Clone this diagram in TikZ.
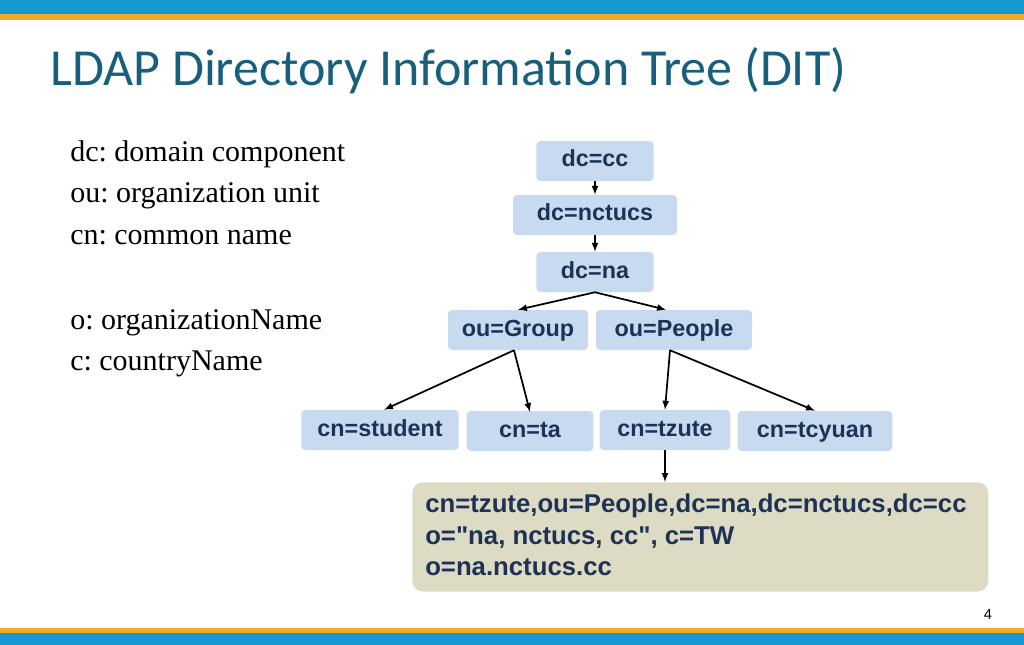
\documentclass[tikz,border=0pt]{standalone}
\usepackage{fontspec}
\setmainfont{Liberation Serif}
\setsansfont{Liberation Sans}
\newfontfamily\titlefont{Carlito}
\definecolor{barblue}{RGB}{22,152,208}
\definecolor{barorange}{RGB}{240,172,40}
\definecolor{titlecol}{RGB}{24,95,125}
\definecolor{nodefill}{RGB}{199,218,240}
\definecolor{nodetext}{RGB}{30,50,85}
\definecolor{boxfill}{RGB}{222,219,196}
\frenchspacing
\begin{document}
\begin{tikzpicture}[x=0.75pt,y=-0.75pt,
  ent/.style={fill=nodefill,rounded corners=3pt,minimum height=30pt,inner sep=0pt,
    text height=12.5pt,text depth=3.5pt,
    font=\sffamily\bfseries\fontsize{17.5}{21}\selectfont,text=nodetext},
  arr/.style={-latex,line width=1.3pt},
  legend/.style={anchor=base west,font=\fontsize{22.5}{26}\selectfont,inner sep=0pt}]
\useasboundingbox (0,0) rectangle (1024,645);
\fill[barblue] (0,0) rectangle (1024,14);
\fill[barorange] (0,14) rectangle (1024,20);
\fill[barorange] (0,628) rectangle (1024,633);
\fill[barblue] (0,633) rectangle (1024,645);
\node[anchor=base west,inner sep=0pt,text=titlecol,font=\titlefont\fontsize{39}{46}\selectfont] (title) at (50,86) {LDAP Directory Information Tree (DIT)};
\node[legend] (l1) at (70,162) {dc: domain component};
\node[legend] (l2) at (70,203) {ou: organization unit};
\node[legend] (l3) at (70,245) {cn: common name};
\node[legend] (l4) at (70,329) {o: organizationName};
\node[legend] (l5) at (70,370) {c: countryName};
\node[ent,minimum width=88pt] (cc) at (595,161) {dc=cc};
\node[ent,minimum width=123pt] (nctucs) at (595,215) {dc=nctucs};
\node[ent,minimum width=88pt] (na) at (595,272) {dc=na};
\node[ent,minimum width=105pt] (group) at (518,330) {ou=Group};
\node[ent,minimum width=117pt] (people) at (674,330) {ou=People};
\node[ent,minimum width=118pt] (student) at (380,430) {cn=student};
\node[ent,minimum width=95pt] (ta) at (530,431) {cn=ta};
\node[ent,minimum width=98pt] (tzute) at (665,430) {cn=tzute};
\node[ent,minimum width=116pt] (tcyuan) at (815,431) {cn=tcyuan};
\node[fill=boxfill,rounded corners=8pt,minimum width=432pt,minimum height=82pt,anchor=north west,inner sep=0pt] (dn) at (412,482) {};
\node[anchor=north west,align=left,inner sep=0pt,text=nodetext,font=\sffamily\bfseries\fontsize{19.3}{23.5}\selectfont] (dntext) at (425,494)
 {cn=tzute,ou=People,dc=na,dc=nctucs,dc=cc\\o=\textquotedbl na, nctucs, cc\textquotedbl, c=TW\\o=na.nctucs.cc};
\node[font=\sffamily\fontsize{11}{13}\selectfont] (pg) at (988,614) {4};
\draw[arr] (cc) -- (nctucs);
\draw[arr] (nctucs) -- (na);
\draw[arr] (na.south) -- (group.north);
\draw[arr] (na.south) -- ([xshift=-6pt]people.north);
\draw[arr] ([xshift=-3pt]group.south) -- ([xshift=3pt]student.north);
\draw[arr] ([xshift=-3pt]group.south) -- ([yshift=-1pt]ta.north);
\draw[arr] ([xshift=-3pt]people.south) -- (tzute.north);
\draw[arr] ([xshift=-3pt]people.south) -- (tcyuan.north);
\draw[arr] (tzute) -- (dn.north -| tzute);
\end{tikzpicture}
\end{document}
